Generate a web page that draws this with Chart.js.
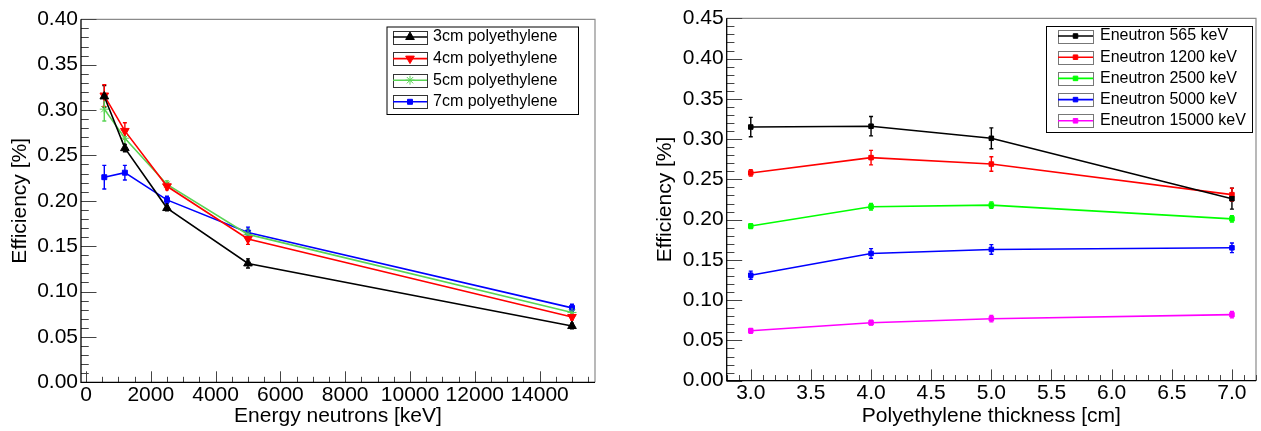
<!DOCTYPE html>
<html><head><meta charset="utf-8">
<script src="https://cdn.jsdelivr.net/npm/chart.js@4.4.1/dist/chart.umd.min.js"></script>
<style>
html,body{margin:0;padding:0;background:#fff;width:1261px;height:431px;overflow:hidden}
#c1{position:absolute;left:0;top:0;width:620px;height:431px}
#c2{position:absolute;left:640px;top:0;width:621px;height:431px}
</style></head><body>
<canvas id="c1" width="620" height="431"></canvas>
<canvas id="c2" width="621" height="431"></canvas>
<script>
// ---- data ----
const energies = [565, 1200, 2500, 5000, 15000];          // keV
const thicknesses = [3.0, 4.0, 5.0, 7.0];                 // cm
const eff3cm = [0.315, 0.258, 0.192, 0.131, 0.062];
const eff4cm = [0.316, 0.277, 0.216, 0.158, 0.072];
const eff5cm = [0.301, 0.269, 0.218, 0.163, 0.077];
const eff7cm = [0.226, 0.231, 0.201, 0.165, 0.082];
const err3cm = [0.012, 0.004, 0.003, 0.005, 0.003];
const err4cm = [0.012, 0.009, 0.004, 0.006, 0.003];
const err5cm = [0.013, 0.009, 0.004, 0.006, 0.004];
const err7cm = [0.013, 0.008, 0.004, 0.006, 0.004];
const thicknessLabels = ['3cm polyethylene', '4cm polyethylene', '5cm polyethylene', '7cm polyethylene'];
const energyLabels = ['Eneutron 565 keV', 'Eneutron 1200 keV', 'Eneutron 2500 keV', 'Eneutron 5000 keV', 'Eneutron 15000 keV'];
// tick labels
const energyTicks = [0, 2000, 4000, 6000, 8000, 10000, 12000, 14000];
const effTicksLeft = [0, 0.05, 0.10, 0.15, 0.20, 0.25, 0.30, 0.35, 0.40];
const thickTicks = [3.0, 3.5, 4.0, 4.5, 5.0, 5.5, 6.0, 6.5, 7.0];
const effTicksRight = [0, 0.05, 0.10, 0.15, 0.20, 0.25, 0.30, 0.35, 0.40, 0.45];

const effByThick = [eff3cm, eff4cm, eff5cm, eff7cm];
const errByThick = [err3cm, err4cm, err5cm, err7cm];

const FONT = "'Liberation Sans', Arial, Helvetica, sans-serif";

// ---- plugins ----
const errorBars = {
  id: 'errorBars',
  beforeDatasetsDraw(chart) {
    const ctx = chart.ctx, ys = chart.scales.y;
    chart.data.datasets.forEach((ds, di) => {
      const meta = chart.getDatasetMeta(di);
      ctx.save();
      ctx.strokeStyle = ds.borderColor;
      ctx.lineWidth = 1.4;
      meta.data.forEach((pt, i) => {
        const v = ds.data[i].y, e = ds.errors[i];
        const y1 = ys.getPixelForValue(v + e), y2 = ys.getPixelForValue(v - e);
        ctx.beginPath();
        ctx.moveTo(pt.x, y1); ctx.lineTo(pt.x, y2);
        ctx.moveTo(pt.x - 2, y1); ctx.lineTo(pt.x + 2, y1);
        ctx.moveTo(pt.x - 2, y2); ctx.lineTo(pt.x + 2, y2);
        ctx.stroke();
      });
      ctx.restore();
    });
  }
};

const rootFrame = {
  id: 'rootFrame',
  beforeDatasetsDraw(chart, args, o) {
    const ctx = chart.ctx, a = chart.chartArea, xs = chart.scales.x, ys = chart.scales.y;
    ctx.save();
    // grey frame (top/right)
    ctx.strokeStyle = '#8a8a8a'; ctx.lineWidth = 1.2;
    ctx.beginPath();
    ctx.moveTo(a.left, a.top); ctx.lineTo(a.right, a.top); ctx.lineTo(a.right, a.bottom);
    ctx.stroke();
    // ticks
    ctx.strokeStyle = '#444'; ctx.lineWidth = 1;
    ctx.beginPath();
    const eps = 1e-9;
    for (let v = Math.ceil(xs.min / o.xMinor - eps) * o.xMinor; v <= xs.max + eps; v += o.xMinor) {
      const px = Math.round(xs.getPixelForValue(v)) + 0.5;
      const major = Math.abs(v / o.xMajor - Math.round(v / o.xMajor)) < 1e-6;
      const len = major ? o.xLen : o.xLen / 2;
      ctx.moveTo(px, a.bottom); ctx.lineTo(px, a.bottom - len);
    }
    for (let v = Math.ceil(ys.min / o.yMinor - eps) * o.yMinor; v <= ys.max + eps; v += o.yMinor) {
      const py = Math.round(ys.getPixelForValue(v)) + 0.5;
      const major = Math.abs(v / o.yMajor - Math.round(v / o.yMajor)) < 1e-6;
      const len = major ? o.yLen : o.yLen / 2;
      ctx.moveTo(a.left, py); ctx.lineTo(a.left + len, py);
    }
    ctx.stroke();
    // axis lines
    ctx.strokeStyle = '#000'; ctx.lineWidth = 1.3;
    ctx.beginPath();
    ctx.moveTo(a.left, a.top); ctx.lineTo(a.left, a.bottom); ctx.lineTo(a.right, a.bottom);
    ctx.stroke();
    ctx.restore();
  }
};

const boxLegend = {
  id: 'boxLegend',
  afterDraw(chart, args, o) {
    const ctx = chart.ctx;
    ctx.save();
    ctx.fillStyle = '#fff';
    ctx.fillRect(o.x, o.y, o.w, o.h);
    ctx.strokeStyle = '#000'; ctx.lineWidth = 1;
    ctx.strokeRect(o.x + 0.5, o.y + 0.5, o.w, o.h);
    ctx.font = o.fontSize + 'px ' + FONT;
    ctx.textBaseline = 'middle'; ctx.textAlign = 'left';
    chart.data.datasets.forEach((ds, i) => {
      const cy = o.firstRow + i * o.rowH;
      ctx.strokeStyle = o.sampleBorder; ctx.lineWidth = 1;
      ctx.strokeRect(o.sx + 0.5, Math.round(cy - o.sh / 2) + 0.5, o.sw, o.sh);
      ctx.strokeStyle = ds.borderColor; ctx.lineWidth = ds.borderWidth;
      ctx.beginPath(); ctx.moveTo(o.sx, cy); ctx.lineTo(o.sx + o.sw, cy); ctx.stroke();
      ctx.fillStyle = ds.pointBackgroundColor || ds.borderColor;
      ctx.strokeStyle = ds.borderColor; ctx.lineWidth = 1;
      Chart.helpers.drawPoint(ctx, {pointStyle: ds.pointStyle, rotation: ds.pointRotation || 0, radius: ds.pointRadius, borderWidth: 1}, o.sx + o.sw / 2, cy);
      ctx.fillStyle = '#000';
      ctx.fillText(ds.label, o.tx, cy);
    });
    ctx.restore();
  }
};

function fixedTicks(arr) { return function (scale) { scale.ticks = arr.map(v => ({value: v})); }; }

function makeScales(o) {
  return {
    x: {
      type: 'linear', min: o.xmin, max: o.xmax,
      afterBuildTicks: fixedTicks(o.xticks),
      afterFit: s => { s.height = o.xh; },
      grid: {display: false, drawTicks: false}, border: {display: false},
      ticks: {color: '#000', padding: 0, font: {family: FONT, size: 21, lineHeight: 1.2}, maxRotation: 0, autoSkip: false,
              callback: o.xfmt},
      title: {display: true, text: o.xtitle, color: '#000', font: {family: FONT, size: 21, lineHeight: 1.2}, padding: {top: 0, bottom: 2.4}}
    },
    y: {
      type: 'linear', min: 0, max: o.ymax,
      afterBuildTicks: fixedTicks(o.yticks),
      afterFit: s => { s.width = o.yw; },
      grid: {display: false, drawTicks: false}, border: {display: false},
      ticks: {color: '#000', padding: 3, font: {family: FONT, size: 21}, autoSkip: false,
              callback: v => Number(v).toFixed(2)},
      title: {display: true, text: 'Efficiency [%]', color: '#000', font: {family: FONT, size: 21, lineHeight: 1.2}, padding: {top: o.ytitlePad, bottom: 0}}
    }
  };
}

// ---- left chart: efficiency vs energy ----
const leftStyles = [
  {color: '#000000', style: 'triangle', rot: 0, r: 5},
  {color: '#ff0000', style: 'triangle', rot: 180, r: 5},
  {color: '#59d454', style: 'star', rot: 0, r: 4.5},
  {color: '#0000ff', style: 'rect', rot: 0, r: 3.5}
];
new Chart(document.getElementById('c1'), {
  type: 'line',
  data: {
    datasets: thicknessLabels.map((lab, t) => ({
      label: lab,
      data: energies.map((e, i) => ({x: e, y: effByThick[t][i]})),
      errors: errByThick[t],
      borderColor: leftStyles[t].color, backgroundColor: leftStyles[t].color,
      pointBackgroundColor: leftStyles[t].color,
      pointStyle: leftStyles[t].style, pointRotation: leftStyles[t].rot, pointRadius: leftStyles[t].r,
      pointBorderWidth: 1, borderWidth: 1.6, tension: 0, fill: false
    }))
  },
  options: {
    responsive: false, animation: false, devicePixelRatio: 1,
    layout: {padding: {left: 0, top: 19.3, right: 25, bottom: 0}},
    plugins: {
      legend: {display: false}, tooltip: {enabled: false},
      rootFrame: {xMinor: 500, xMajor: 2000, xLen: 11, yMinor: 0.01, yMajor: 0.05, yLen: 15.5},
      boxLegend: {x: 386.5, y: 26.5, w: 191.5, h: 87.5, firstRow: 37, rowH: 21.6, sx: 393, sw: 34, sh: 13,
                  tx: 433, fontSize: 16, sampleBorder: '#333'}
    },
    scales: makeScales({xmin: -154, xmax: 15710, xticks: energyTicks, xh: 48.7, xfmt: v => String(v),
                        xtitle: 'Energy neutrons [keV]', ymax: 0.40, yticks: effTicksLeft, yw: 81, ytitlePad: 7.4})
  },
  plugins: [rootFrame, errorBars, boxLegend]
});

// ---- right chart: efficiency vs thickness ----
const rightColors = ['#000000', '#ff0000', '#00ff00', '#0000ff', '#ff00ff'];
new Chart(document.getElementById('c2'), {
  type: 'line',
  data: {
    datasets: energyLabels.map((lab, e) => ({
      label: lab,
      data: thicknesses.map((t, ti) => ({x: t, y: effByThick[ti][e]})),
      errors: thicknesses.map((t, ti) => errByThick[ti][e]),
      borderColor: rightColors[e], backgroundColor: rightColors[e], pointBackgroundColor: rightColors[e],
      pointStyle: 'rect', pointRadius: 3.2, pointBorderWidth: 1, borderWidth: 1.6, tension: 0, fill: false
    }))
  },
  options: {
    responsive: false, animation: false, devicePixelRatio: 1,
    layout: {padding: {left: 0, top: 18.3, right: 0, bottom: 0}},
    plugins: {
      legend: {display: false}, tooltip: {enabled: false},
      rootFrame: {xMinor: 0.1, xMajor: 0.5, xLen: 11.3, yMinor: 0.01, yMajor: 0.05, yLen: 15.5},
      boxLegend: {x: 406, y: 26, w: 206, h: 106, firstRow: 36, rowH: 21.2, sx: 418, sw: 35, sh: 13,
                  tx: 460, fontSize: 16, sampleBorder: '#777'}
    },
    scales: makeScales({xmin: 2.8, xmax: 7.2, xticks: thickTicks, xh: 50.3, xfmt: v => Number(v).toFixed(1),
                        xtitle: 'Polyethylene thickness [cm]', ymax: 0.45, yticks: effTicksRight, yw: 86.7, ytitlePad: 12.4})
  },
  plugins: [rootFrame, errorBars, boxLegend]
});
</script>
</body></html>
